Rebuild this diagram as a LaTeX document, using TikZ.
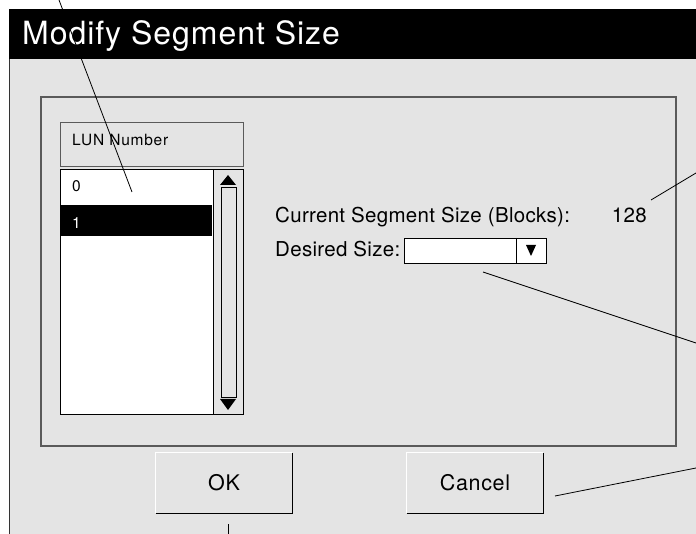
\documentclass[tikz,border=0pt]{standalone}
\usepackage{fontspec}
\setmainfont{TeX Gyre Heros}
\newfontfamily\dlgtitle[LetterSpace=3]{TeX Gyre Heros}
\newfontfamily\dlgfont[LetterSpace=1.5]{TeX Gyre Heros}
\newfontfamily\dlgsmall[LetterSpace=5]{TeX Gyre Heros}
\definecolor{dlgbg}{RGB}{228,228,228}
\definecolor{etch}{RGB}{90,90,90}
\tikzset{
  txt/.style={inner sep=0pt,font=\dlgfont\fontsize{20.5}{24}\selectfont},
  smalltxt/.style={inner sep=0pt,font=\dlgsmall\fontsize{15.5}{18}\selectfont},
  btn/.style={fill=dlgbg,minimum width=136pt,minimum height=60pt,inner sep=0pt,
    font=\dlgtitle\fontsize{21.5}{24}\selectfont},
  leader/.style={draw=black,line width=0.8pt}
}
\begin{document}
\begin{tikzpicture}[x=1pt,y=-1pt]
\useasboundingbox (0,0) rectangle (696,534);
\fill[white] (0,0) rectangle (696,534);
% window
\fill[dlgbg] (9,59) rectangle (696,534);
\fill[black] (9,9) rectangle (696,59);
\draw[line width=1pt,black!80] (9,59) -- (9,534);
\node[anchor=base west,inner sep=0pt,text=white,font=\dlgtitle\fontsize{32}{36}\selectfont] (title) at (22,45) {Modify Segment Size};
% group box
\draw[etch,line width=1.2pt] (41,97) rectangle (676,446);
% list header
\draw[etch,line width=0.8pt,fill=dlgbg] (60,122) rectangle (243,166);
\node[smalltxt,anchor=base west] (lunhead) at (72,146) {LUN Number};
% list
\draw[black,line width=0.8pt,fill=white] (60,169) rectangle (213,414);
\fill[black] (60,205) rectangle (212,236);
\node[smalltxt,anchor=base west] (row0) at (72,192) {0};
\node[smalltxt,anchor=base west,text=white] (row1) at (72,229) {1};
% scroll bar
\draw[black,line width=0.8pt,fill=dlgbg] (213,169) rectangle (243,414);
\draw[black,line width=0.8pt] (221,187) rectangle (236,397);
\fill[black] (220,185) -- (236,185) -- (228,175) -- cycle;
\fill[black] (220,399) -- (236,399) -- (228,410) -- cycle;
% fields
\node[txt,anchor=base west] (cursize) at (275,223) {Current Segment Size (Blocks):};
\node[txt,anchor=base east] (curval) at (647,223) {128};
\node[txt,anchor=base west] (desired) at (275,257) {Desired Size:};
\draw[black,line width=0.8pt,fill=white] (404,238) rectangle (546,263);
\draw[black,line width=0.8pt] (516,238) -- (516,263);
\fill[black] (526,245) -- (536,245) -- (531,256) -- cycle;
\coordinate (ddbox) at (483,272);
% buttons
\node[btn] (okbtn) at (224,483) {OK};
\node[btn] (cancelbtn) at (475,483) {Cancel};
\foreach \b in {okbtn,cancelbtn}{
  \draw[white,line width=1pt] (\b.south west) |- (\b.north east);
  \draw[black,line width=1pt] (\b.south west) -| (\b.north east);
}
% leaders
\coordinate (lunptr) at (132,192);
\coordinate (lunfree) at (59,0);
\coordinate (curptr) at (651,200);
\coordinate (curfree) at (696,173);
\coordinate (ddfree) at (696,343);
\coordinate (cancelptr) at (555,496);
\coordinate (cancelfree) at (696,468);
\coordinate (okptr) at (228,524);
\coordinate (okfree) at (228,534);
\draw[leader] (lunfree) -- (lunptr);
\draw[leader] (curptr) -- (curfree);
\draw[leader] (ddbox) -- (ddfree);
\draw[leader] (cancelptr) -- (cancelfree);
\draw[leader] (okptr) -- (okfree);
\end{tikzpicture}
\end{document}
